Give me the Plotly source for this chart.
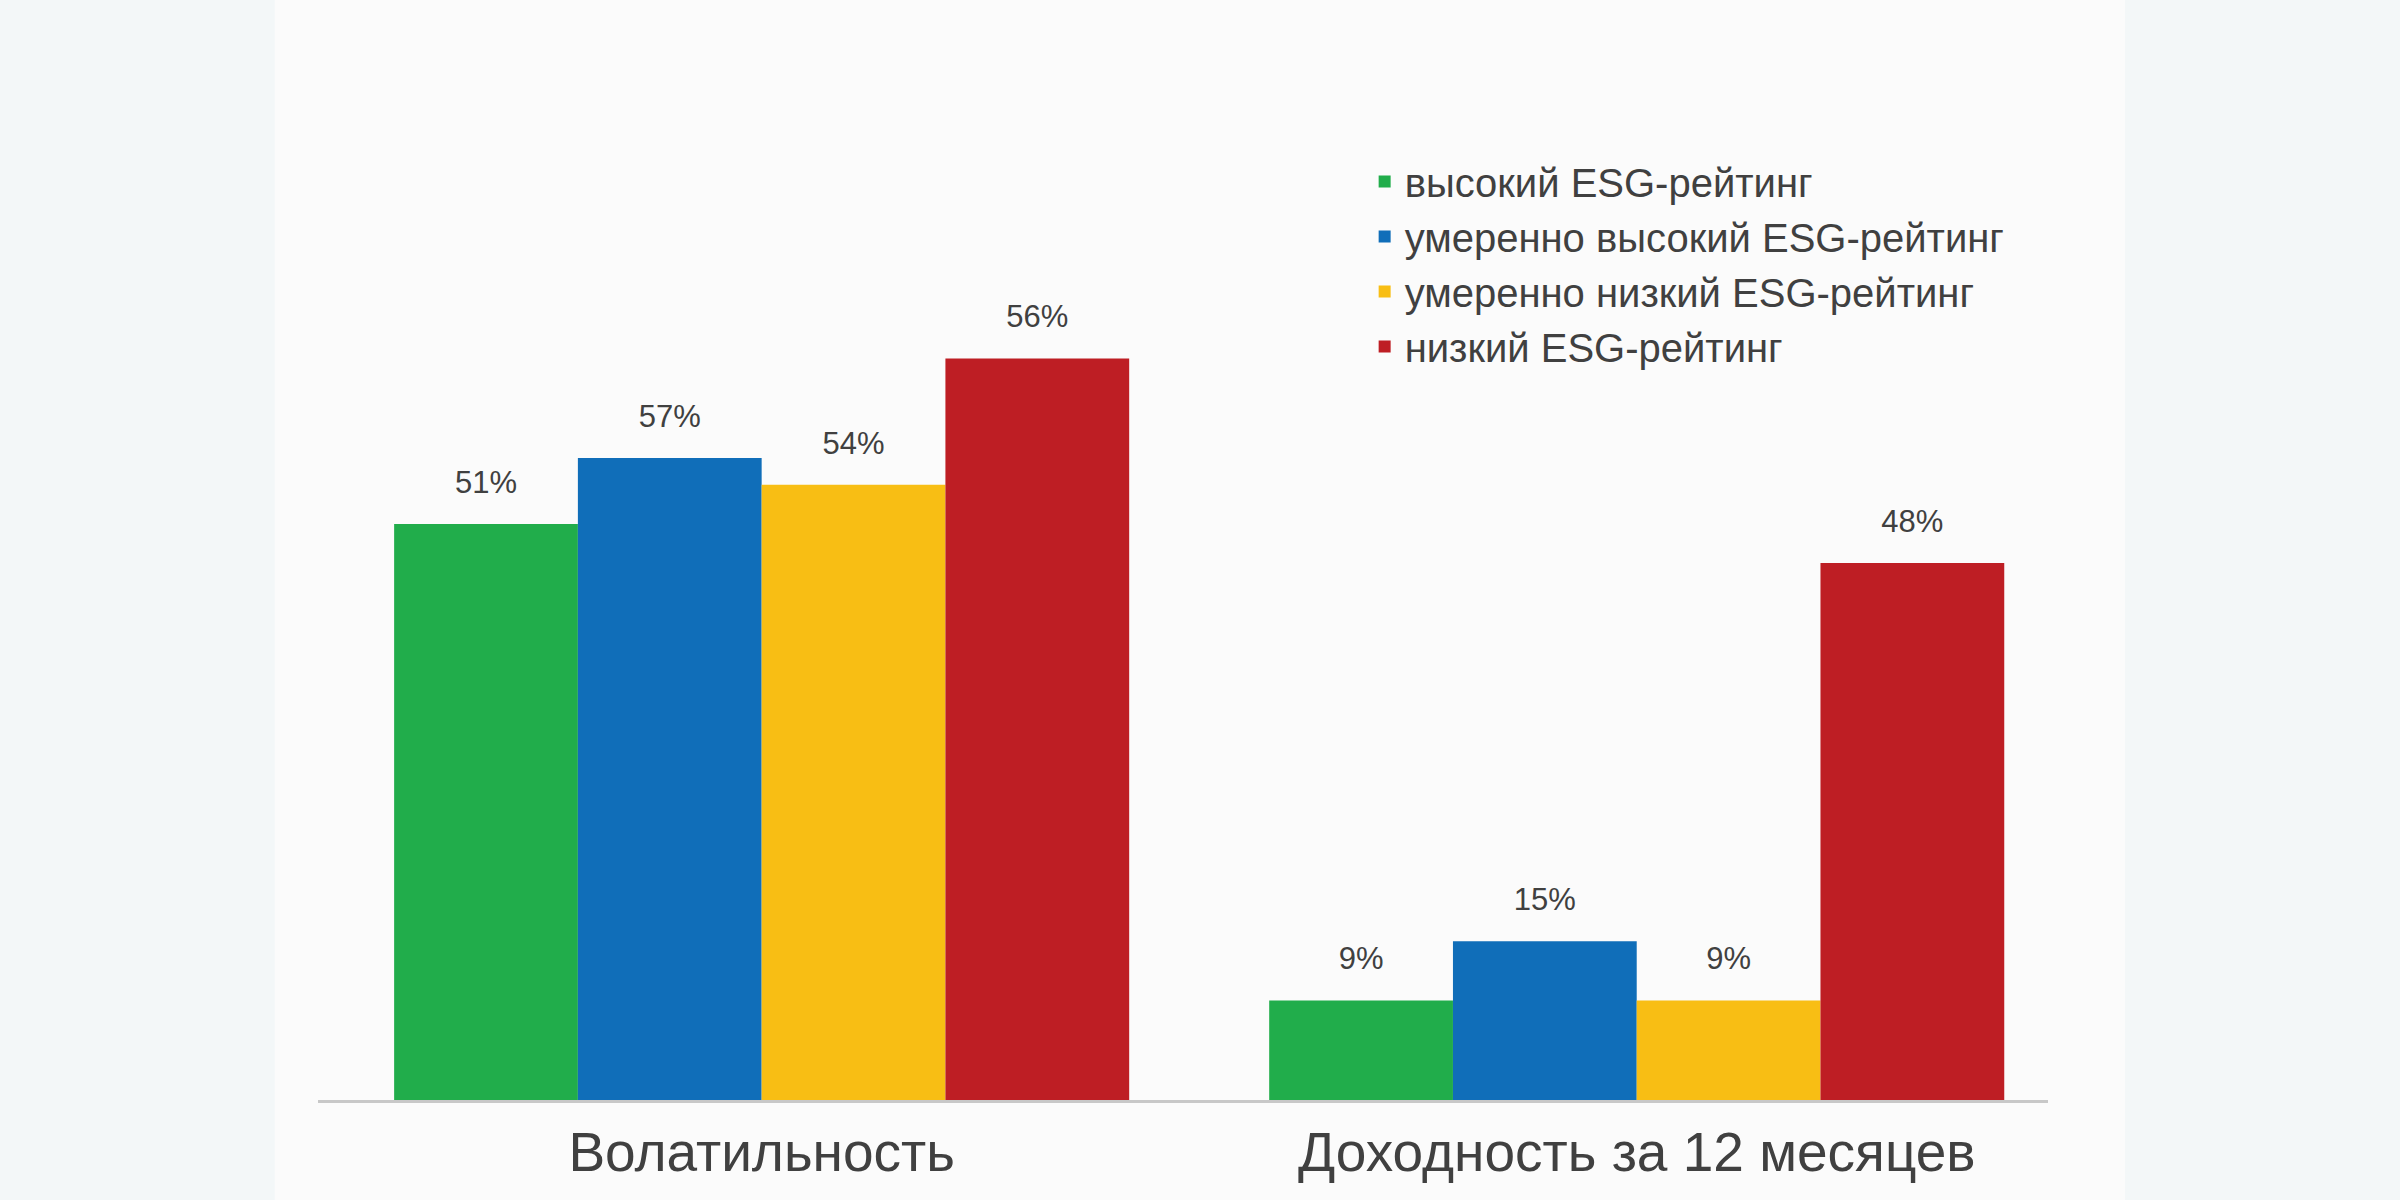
import plotly.graph_objects as go

# categories and series
categories = ["Волатильность", "Доходность за 12 месяцев"]
series_names = ["высокий ESG-рейтинг", "умеренно высокий ESG-рейтинг",
                "умеренно низкий ESG-рейтинг", "низкий ESG-рейтинг"]
series_colors = ["#21ad4b", "#106eb9", "#f8be14", "#be1e24"]

# bar heights as drawn in the picture, and the printed labels
high_vals = [51.5, 8.9]
mid_high_vals = [57.4, 14.2]
mid_low_vals = [55.0, 8.9]
low_vals = [66.3, 48.0]

high_labels = ["51%", "9%"]
mid_high_labels = ["57%", "15%"]
mid_low_labels = ["54%", "9%"]
low_labels = ["56%", "48%"]

all_vals = [high_vals, mid_high_vals, mid_low_vals, low_vals]
all_labels = [high_labels, mid_high_labels, mid_low_labels, low_labels]

fig = go.Figure()
for i, (name, color, vals) in enumerate(zip(series_names, series_colors, all_vals)):
    fig.add_trace(go.Bar(
        x=categories, y=vals, name=name, offsetgroup=str(i),
        marker=dict(color=color, line=dict(width=0)),
    ))

# value labels: invisible markers push the text up a bit off the bar tops
for i, (vals, labels) in enumerate(zip(all_vals, all_labels)):
    fig.add_trace(go.Scatter(
        x=categories, y=vals, offsetgroup=str(i), mode="markers+text",
        text=labels, textposition="top center",
        marker=dict(size=36, opacity=0),
        textfont=dict(size=31, color="#404040", family="Liberation Sans, Arial"),
        showlegend=False, hoverinfo="skip", cliponaxis=False,
    ))

# slide background (decoration only)
fig.add_shape(type="rect", xref="paper", yref="paper",
              x0=-0.025, x1=1.0445, y0=-0.1, y1=1.1,
              fillcolor="#fbfbfb", line=dict(width=0), layer="below")

fig.update_layout(
    width=2400, height=1200,
    margin=dict(l=318, r=352, t=100, b=100),
    paper_bgcolor="#f3f7f8",
    plot_bgcolor="rgba(0,0,0,0)",
    barmode="group", bargap=0.16, bargroupgap=0,
    scattermode="group", scattergap=0.16,
    font=dict(family="Liberation Sans, Arial", color="#404040"),
    showlegend=True,
    legend=dict(x=0.605, y=0.951, xanchor="left", yanchor="top",
                bgcolor="rgba(0,0,0,0)",
                font=dict(size=40, color="#404040"),
                tracegroupgap=7),
    xaxis=dict(range=[-0.507, 1.470], showline=True, linecolor="#c8c8c8",
               linewidth=3, ticks="", showgrid=False, zeroline=False,
               tickfont=dict(size=55, color="#404040"), ticklabelstandoff=2),
    yaxis=dict(range=[0, 89.4], visible=False, showgrid=False, zeroline=False),
)

fig.write_html("out.html", config={"displayModeBar": False},
               post_script="document.body.style.margin='0';"
                           "document.body.style.background='#f3f7f8';")
